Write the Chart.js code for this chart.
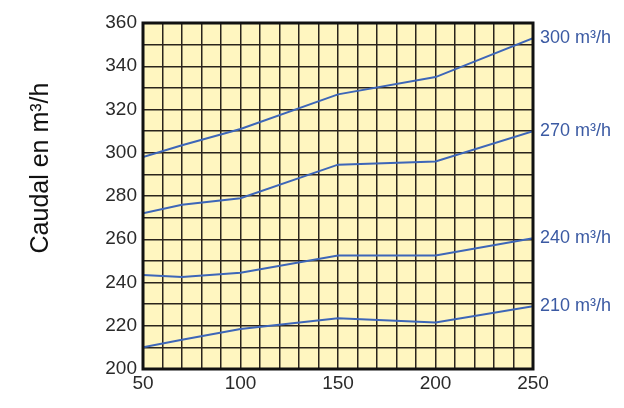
<!DOCTYPE html>
<html lang="es">
<head>
<meta charset="UTF-8">
<title>Caudal</title>
<script src="https://cdn.jsdelivr.net/npm/chart.js"></script>
<style>
  html, body { margin: 0; padding: 0; background: #fff; }
  #wrap { width: 624px; height: 408px; }
</style>
</head>
<body>
<div id="wrap"><canvas id="myChart" width="624" height="408"></canvas></div>
<script>
// x positions and one array per curve
const xValues = [50, 70, 100, 150, 200, 250];
const curve210 = [210, 213.5, 218.5, 223.5, 221.5, 229];
const curve240 = [243.5, 242.5, 244.5, 252.5, 252.5, 260.5];
const curve270 = [272, 276, 279, 294.5, 296, 310];
const curve300 = [298, 303.5, 311, 327, 335, 353];
const curveNames = ["210 m³/h", "240 m³/h", "270 m³/h", "300 m³/h"];
const xTickLabels = [50, 100, 150, 200, 250];
const yTickLabels = [200, 220, 240, 260, 280, 300, 320, 340, 360];
const yTitle = "Caudal en m³/h";

const lineBlue = "#3d66b8";
const font = "'Liberation Sans', Arial, sans-serif";

function toPoints(ys) {
    return ys.map((y, i) => ({ x: xValues[i], y: y }));
}

// yellow background, thick frame, y title and names at the end of each line
const framePlugin = {
    id: "frame",
    beforeDraw(chart) {
        const a = chart.chartArea;
        const ctx = chart.ctx;
        ctx.save();
        ctx.fillStyle = "#fff6c0";
        ctx.fillRect(a.left, a.top, a.right - a.left, a.bottom - a.top);
        ctx.restore();
    },
    afterDatasetsDraw(chart) {
        const a = chart.chartArea;
        const ctx = chart.ctx;
        ctx.save();
        ctx.strokeStyle = "#111";
        ctx.lineWidth = 3;
        ctx.strokeRect(a.left, a.top, a.right - a.left, a.bottom - a.top);

        ctx.fillStyle = "#3b5aa3";
        ctx.font = "18px " + font;
        ctx.textBaseline = "middle";
        ctx.textAlign = "left";
        chart.data.datasets.forEach(ds => {
            const last = ds.data[ds.data.length - 1];
            const y = chart.scales.y.getPixelForValue(last.y);
            ctx.fillText(ds.label, a.right + 7, y);
        });

        // title sits a bit above the middle of the axis in the original
        ctx.translate(48, 168);
        ctx.rotate(-Math.PI / 2);
        ctx.fillStyle = "#111";
        ctx.font = "25px " + font;
        ctx.textAlign = "center";
        ctx.textBaseline = "alphabetic";
        ctx.fillText(yTitle, 0, 0);
        ctx.restore();
    }
};

const ctx = document.getElementById("myChart").getContext("2d");
new Chart(ctx, {
    type: "line",
    data: {
        datasets: [curve210, curve240, curve270, curve300].map((c, i) => ({
            label: curveNames[i],
            data: toPoints(c),
            borderColor: lineBlue,
            borderWidth: 2,
            pointRadius: 0,
            tension: 0,
            fill: false
        }))
    },
    options: {
        responsive: false,
        animation: false,
        layout: { padding: { top: 23, right: 91, left: 0, bottom: 0 } },
        plugins: {
            legend: { display: false },
            tooltip: { enabled: false }
        },
        scales: {
            x: {
                type: "linear",
                min: 50,
                max: 250,
                afterFit(scale) { scale.height = 39; },
                ticks: {
                    stepSize: 10,
                    autoSkip: false,
                    maxRotation: 0,
                    padding: 3,
                    color: "#2a2a2a",
                    font: { size: 19, family: font },
                    callback: v => xTickLabels.includes(v) ? String(v) : ""
                },
                grid: { color: "#2b241c", lineWidth: 1.5, drawTicks: false },
                border: { display: false }
            },
            y: {
                min: 200,
                max: 360,
                afterFit(scale) { scale.width = 143; },
                ticks: {
                    stepSize: 10,
                    autoSkip: false,
                    padding: 6,
                    color: "#2a2a2a",
                    font: { size: 19, family: font },
                    callback: v => yTickLabels.includes(v) ? String(v) : ""
                },
                grid: { color: "#2b241c", lineWidth: 1.5, drawTicks: false },
                border: { display: false }
            }
        }
    },
    plugins: [framePlugin]
});
</script>
</body>
</html>
